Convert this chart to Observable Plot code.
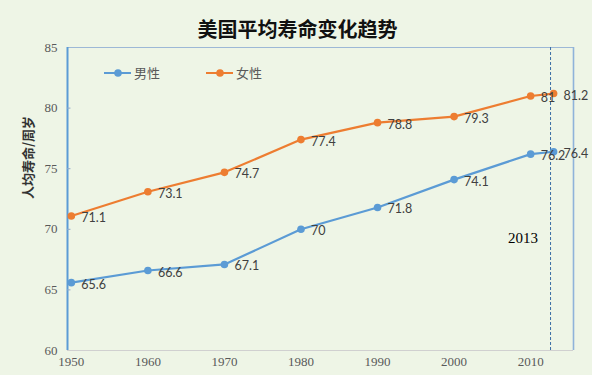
<!DOCTYPE html>
<html>
<head>
<meta charset="utf-8">
<script src="https://cdn.jsdelivr.net/npm/d3@7"></script>
<script src="https://cdn.jsdelivr.net/npm/@observablehq/plot@0.6"></script>
<style>
  html, body { margin: 0; padding: 0; background: #EEF5E6; }
  #wrap { position: relative; width: 592px; height: 375px; overflow: hidden; }
  #legend { position: absolute; left: 104px; top: 63px; font: 13px "Noto Sans CJK SC", sans-serif; color: #595959; display: flex; gap: 0; }
  .item { display: flex; align-items: center; margin-right: 46px; }
  .item svg { margin-right: 3px; }
</style>
</head>
<body>
<div id="wrap"><div id="legend"></div></div>
<script>
const years = [1950, 1960, 1970, 1980, 1990, 2000, 2010, 2013];
const male = [65.6, 66.6, 67.1, 70, 71.8, 74.1, 76.2, 76.4];
const female = [71.1, 73.1, 74.7, 77.4, 78.8, 79.3, 81, 81.2];
const seriesNames = ["男性", "女性"];
const seriesColors = ["#5B9BD5", "#ED7D31"];
const xTicks = [1950, 1960, 1970, 1980, 1990, 2000, 2010];
const yTicks = [60, 65, 70, 75, 80, 85];
const xDomain = [1949.5, 2015.6];
const yDomain = [60, 85];
const markerYear = [2012.6];
const noteText = [{year: 2009, value: 69.3, text: "2013"}];
const titleText = "美国平均寿命变化趋势";
const yLabel = "人均寿命/周岁";

const data = [];
years.forEach((y, i) => {
  data.push({year: y, value: male[i], series: seriesNames[0]});
  data.push({year: y, value: female[i], series: seriesNames[1]});
});

const chart = Plot.plot({
  width: 592,
  height: 375,
  marginTop: 47,
  marginBottom: 25,
  marginLeft: 67,
  marginRight: 19,
  style: {background: "#EEF5E6", fontFamily: "Liberation Serif, serif", fontSize: "13px"},
  x: {domain: xDomain, ticks: xTicks, tickFormat: d => String(d)},
  y: {domain: yDomain, ticks: yTicks},
  color: {domain: seriesNames, range: seriesColors},
  marks: [
    Plot.ruleY([yDomain[0]], {stroke: "#D0D0D0", strokeWidth: 1}),
    Plot.ruleY([yDomain[1]], {stroke: "#9DB8D6", strokeWidth: 1.2}),
    Plot.ruleX([xDomain[1]], {stroke: "#8FB3DA", strokeWidth: 1.6}),
    Plot.ruleX([xDomain[0]], {stroke: "#5B9BD5", strokeWidth: 2}),
    Plot.ruleX(markerYear, {stroke: "#3A6EA5", strokeWidth: 1, strokeDasharray: "3,2"}),
    Plot.axisX({ticks: xTicks, tickSize: 0, tickPadding: 6, tickFormat: d => String(d), fill: "#595959", fontSize: 13, label: null}),
    Plot.axisY({ticks: yTicks, tickSize: 0, tickPadding: 10, fill: "#595959", fontSize: 13, label: null}),
    Plot.ruleY(yTicks.slice(1, -1), {x1: xDomain[0], x2: xDomain[0] + 0.45, stroke: "#8FA8C8"}),
    Plot.line(data, {x: "year", y: "value", z: "series", stroke: "series", strokeWidth: 2.2}),
    Plot.dot(data, {x: "year", y: "value", fill: "series", r: 3.8}),
    Plot.text(data, {x: "year", y: "value", text: d => String(d.value), dx: 10, dy: 2, textAnchor: "start", fill: "#404040", fontSize: 12.5, fontFamily: "Lato, sans-serif"}),
    Plot.text(noteText, {x: "year", y: "value", text: "text", fill: "#000", fontSize: 15, fontFamily: "Liberation Serif, serif"}),
    Plot.text([titleText], {frameAnchor: "top", dx: -23, dy: -25, fontSize: 20, fontWeight: "bold", fill: "#111", fontFamily: "Noto Sans CJK SC, sans-serif"}),
    Plot.text([yLabel], {frameAnchor: "left", dx: -39, rotate: -90, fontSize: 13, fontWeight: "bold", fill: "#333", fontFamily: "Noto Sans CJK SC, sans-serif"})
  ]
});

document.getElementById("wrap").prepend(chart);

const legend = document.getElementById("legend");
seriesNames.forEach((name, i) => {
  const item = document.createElement("div");
  item.className = "item";
  item.innerHTML = `<svg width="27" height="10"><line x1="0" y1="5" x2="27" y2="5" stroke="${seriesColors[i]}" stroke-width="2"/><circle cx="14" cy="5" r="3.8" fill="${seriesColors[i]}"/></svg><span>${name}</span>`;
  legend.appendChild(item);
});
</script>
</body>
</html>
